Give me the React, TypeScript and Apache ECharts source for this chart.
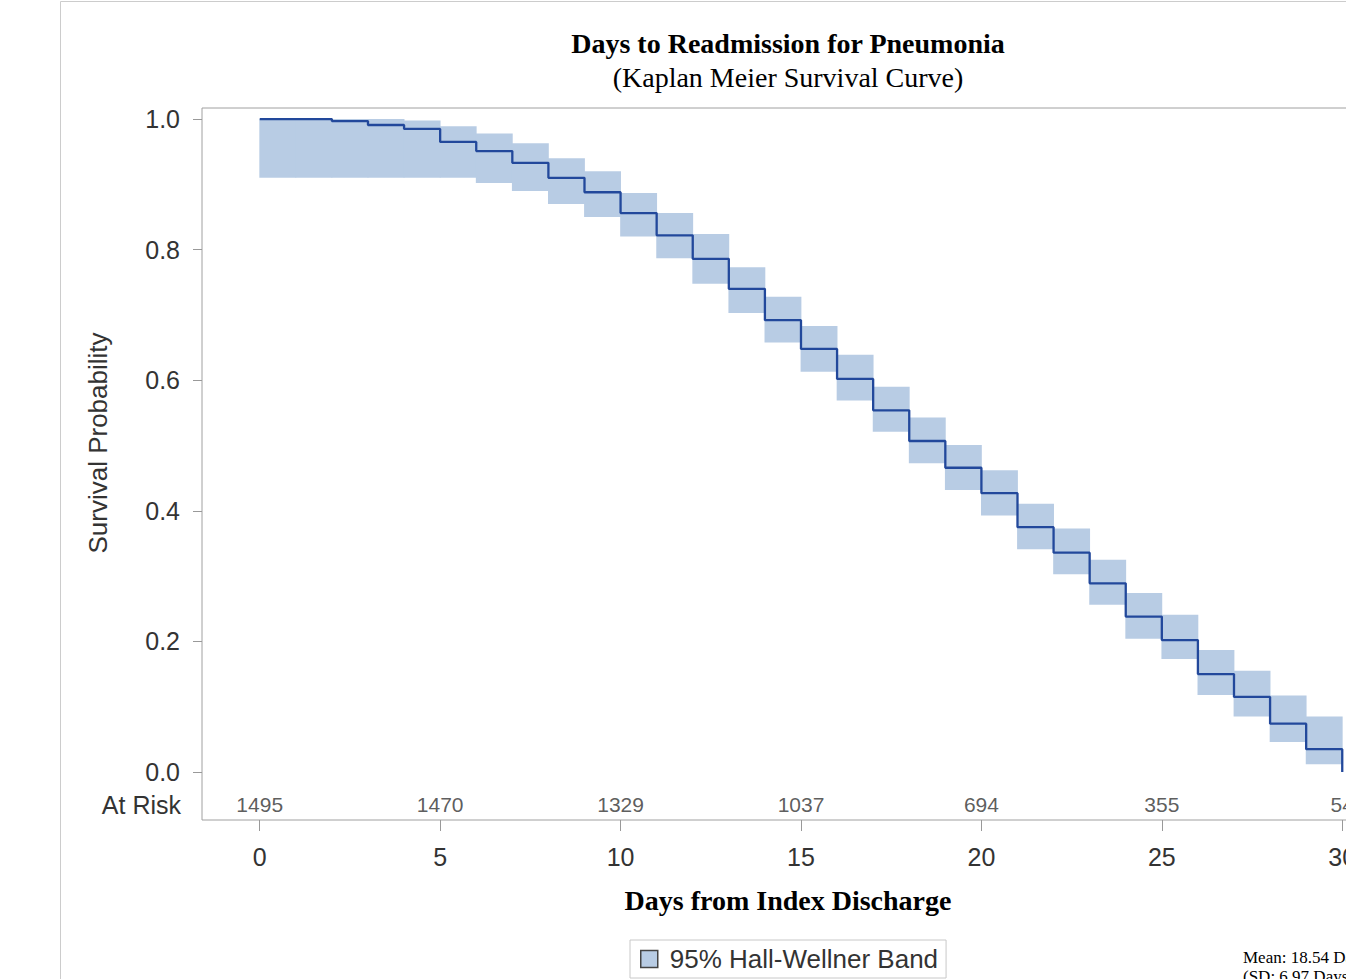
import React, { useEffect, useRef } from "react";
import * as echarts from "echarts";

const DAYS = [0, 1, 2, 3, 4, 5, 6, 7, 8, 9, 10, 11, 12, 13, 14, 15, 16, 17, 18, 19, 20, 21, 22, 23, 24, 25, 26, 27, 28, 29, 30];
const SURVIVAL = [1.0, 1.0, 0.997, 0.991, 0.985, 0.965, 0.951, 0.933, 0.91, 0.888, 0.856, 0.822, 0.786, 0.74, 0.692, 0.648, 0.602, 0.554, 0.507, 0.466, 0.427, 0.375, 0.336, 0.289, 0.238, 0.202, 0.15, 0.115, 0.074, 0.035, 0.0];
const BAND_UPPER = [1.0, 1.0, 1.0, 1.0, 0.998, 0.989, 0.978, 0.963, 0.94, 0.92, 0.887, 0.856, 0.824, 0.773, 0.728, 0.683, 0.639, 0.59, 0.543, 0.501, 0.462, 0.411, 0.373, 0.325, 0.274, 0.241, 0.187, 0.155, 0.117, 0.085];
const BAND_LOWER = [0.91, 0.91, 0.91, 0.91, 0.91, 0.91, 0.902, 0.89, 0.87, 0.85, 0.82, 0.787, 0.748, 0.703, 0.658, 0.613, 0.569, 0.521, 0.473, 0.432, 0.393, 0.341, 0.303, 0.256, 0.204, 0.173, 0.118, 0.085, 0.046, 0.012];
const AT_RISK_DAYS = [0, 5, 10, 15, 20, 25, 30];
const AT_RISK = [1495, 1470, 1329, 1037, 694, 355, 54];
const X_TICKS = [0, 5, 10, 15, 20, 25, 30];
const Y_TICKS = [0, 0.2, 0.4, 0.6, 0.8, 1.0];
const BAND_NAME = "95% Hall-Wellner Band";

const SANS = "Liberation Sans";
const SERIF = "Liberation Serif";
const BAND_COLOR = "#b8cce4";
const LINE_COLOR = "#22489b";

const CHART_W = 1400;

export default function App() {
  const ref = useRef<HTMLDivElement>(null);

  useEffect(() => {
    if (!ref.current) return;
    const chart = echarts.init(ref.current, null, { renderer: "svg" });

    const bandData = BAND_UPPER.map((u, i) => [DAYS[i], DAYS[i + 1], u, BAND_LOWER[i]]);
    const survData = SURVIVAL.map((v, i) => [DAYS[i], v]);
    const riskData = AT_RISK_DAYS.map((d, i) => ({ value: [d, -0.05], count: AT_RISK[i] }));

    chart.setOption({
      animation: false,
      backgroundColor: "#ffffff",
      grid: {
        left: 202,
        top: 108,
        right: CHART_W - 1374,
        bottom: 159,
        show: true,
        borderColor: "#a0a0a0",
        borderWidth: 1,
        backgroundColor: "transparent",
        containLabel: false,
      },
      xAxis: {
        type: "value",
        min: -1.6,
        max: 30.88,
        axisLine: { show: false, onZero: false },
        splitLine: { show: false },
        axisTick: { show: true, length: 11, customValues: X_TICKS, lineStyle: { color: "#999" } },
        axisLabel: {
          customValues: X_TICKS,
          margin: 24,
          fontSize: 25,
          fontFamily: SANS,
          color: "#333",
        },
      },
      yAxis: {
        type: "value",
        min: -0.0735,
        max: 1.017,
        axisLine: { show: false, onZero: false },
        splitLine: { show: false },
        axisTick: { show: true, length: 9, customValues: Y_TICKS, lineStyle: { color: "#999" } },
        axisLabel: {
          customValues: Y_TICKS,
          margin: 22,
          fontSize: 25,
          fontFamily: SANS,
          color: "#333",
          formatter: (v: number) => v.toFixed(1),
        },
      },
      legend: {
        data: [{ name: BAND_NAME, icon: "rect" }],
        left: 630,
        top: 940,
        itemWidth: 17,
        itemHeight: 17,
        padding: [6, 8, 6, 10],
        borderColor: "#c8c8c8",
        borderWidth: 1,
        itemStyle: { color: BAND_COLOR, borderColor: "#444", borderWidth: 1.5 },
        textStyle: { fontSize: 26, fontFamily: SANS, color: "#333", padding: [0, 0, 0, 7] },
      },
      series: [
        {
          type: "custom",
          name: BAND_NAME,
          data: bandData,
          encode: { x: [0, 1], y: [2, 3] },
          itemStyle: { color: BAND_COLOR },
          silent: true,
          clip: true,
          renderItem: (_params: any, api: any) => {
            const p1 = api.coord([api.value(0), api.value(2)]);
            const p2 = api.coord([api.value(1), api.value(3)]);
            return {
              type: "rect",
              shape: { x: p1[0] - 0.4, y: p1[1], width: p2[0] - p1[0] + 0.8, height: p2[1] - p1[1] },
              style: { fill: BAND_COLOR },
            };
          },
        },
        {
          type: "line",
          name: "Survival",
          data: survData,
          step: "end",
          showSymbol: false,
          lineStyle: { color: LINE_COLOR, width: 2.3 },
          itemStyle: { color: LINE_COLOR },
          z: 5,
        },
        {
          type: "scatter",
          name: "At Risk",
          data: riskData,
          symbolSize: 1,
          itemStyle: { color: "rgba(0,0,0,0)" },
          label: {
            show: true,
            position: "inside",
            formatter: (p: any) => String(p.data.count),
            fontSize: 21,
            fontFamily: SANS,
            color: "#333",
          },
        },
      ],
      graphic: [
        {
          type: "rect",
          shape: { x: 60.5, y: 1.5, width: 1500, height: 1100 },
          style: { fill: "none", stroke: "#cccccc", lineWidth: 1 },
          silent: true,
        },
        {
          type: "text",
          x: 788,
          y: 43,
          style: { text: "Days to Readmission for Pneumonia", fontSize: 28, fontWeight: "bold", fontFamily: SERIF, fill: "#000", align: "center", verticalAlign: "middle" },
        },
        {
          type: "text",
          x: 788,
          y: 77,
          style: { text: "(Kaplan Meier Survival Curve)", fontSize: 28, fontFamily: SERIF, fill: "#000", align: "center", verticalAlign: "middle" },
        },
        {
          type: "text",
          x: 98,
          y: 443,
          rotation: Math.PI / 2,
          style: { text: "Survival Probability", fontSize: 26, fontFamily: SANS, fill: "#333", align: "center", verticalAlign: "middle" },
        },
        {
          type: "text",
          x: 181,
          y: 805,
          style: { text: "At Risk", fontSize: 25, fontFamily: SANS, fill: "#333", align: "right", verticalAlign: "middle" },
        },
        {
          type: "text",
          x: 788,
          y: 900,
          style: { text: "Days from Index Discharge", fontSize: 28, fontWeight: "bold", fontFamily: SERIF, fill: "#000", align: "center", verticalAlign: "middle" },
        },
        {
          type: "text",
          x: 1243,
          y: 957,
          style: { text: "Mean: 18.54 Days", fontSize: 17, fontFamily: SERIF, fill: "#000", align: "left", verticalAlign: "middle" },
        },
        {
          type: "text",
          x: 1243,
          y: 976,
          style: { text: "(SD: 6.97 Days)", fontSize: 17, fontFamily: SERIF, fill: "#000", align: "left", verticalAlign: "middle" },
        },
      ],
    });

    return () => chart.dispose();
  }, []);

  return (
    <div style={{ position: "fixed", left: 0, top: 0, width: 1346, height: 979, overflow: "hidden", background: "#fff" }}>
      <div ref={ref} style={{ width: CHART_W, height: 979 }} />
    </div>
  );
}
